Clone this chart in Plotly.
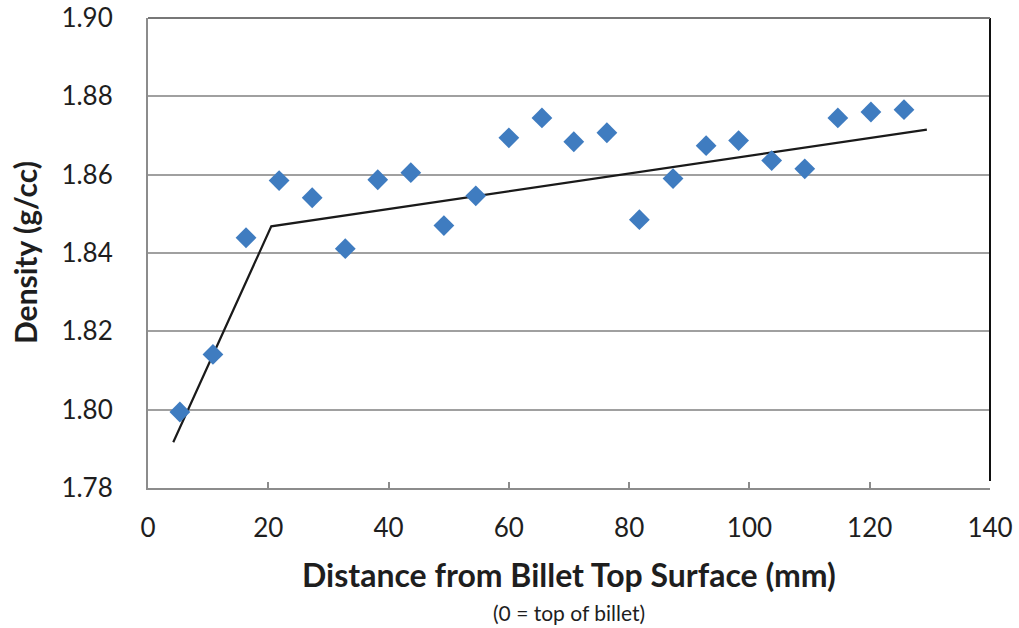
import plotly.graph_objects as go

distance_mm = [5.3, 10.8, 16.3, 21.8, 27.3, 32.8, 38.2, 43.7, 49.2, 54.5, 60.0, 65.5,
               70.8, 76.3, 81.7, 87.3, 92.8, 98.2, 103.7, 109.2, 114.7, 120.2, 125.7]
density = [1.7994, 1.8141, 1.8439, 1.8585, 1.8541, 1.8411, 1.8587, 1.8605, 1.8470, 1.8546,
           1.8694, 1.8745, 1.8684, 1.8707, 1.8485, 1.8590, 1.8674, 1.8687, 1.8636, 1.8615,
           1.8745, 1.8760, 1.8766]

fit_x = [4.2, 20.5, 129.5]
fit_y = [1.7917, 1.8468, 1.8715]

x_ticks = [0, 20, 40, 60, 80, 100, 120, 140]
y_ticks = [1.78, 1.80, 1.82, 1.84, 1.86, 1.88, 1.90]

font_family = "Lato, 'Open Sans', sans-serif"
text_color = "#1e1e1e"

fig = go.Figure()
fig.add_trace(go.Scatter(
    x=fit_x, y=fit_y, mode="lines",
    line=dict(color="#1a1a1a", width=2.2),
    showlegend=False, hoverinfo="skip"))
fig.add_trace(go.Scatter(
    x=distance_mm, y=density, mode="markers",
    marker=dict(symbol="diamond", size=16, color="#3f7cc0"),
    showlegend=False))

fig.update_layout(
    width=1019, height=628,
    margin=dict(l=148, r=29, t=18, b=140),
    paper_bgcolor="white", plot_bgcolor="white",
    font=dict(family=font_family, color=text_color),
    xaxis=dict(
        range=[0, 140], tickvals=x_ticks, ticktext=[str(v) for v in x_ticks],
        showgrid=False, zeroline=False, automargin=False,
        showline=True, linecolor="#8c8c8c", linewidth=2,
        ticks="inside", ticklen=6, tickcolor="#8c8c8c", tickwidth=1.5,
        tickfont=dict(size=26, color=text_color),
        ticklabelstandoff=16, ticklabeloverflow="allow",
    ),
    yaxis=dict(
        range=[1.78, 1.90], tickvals=y_ticks, ticktext=[f"{v:.2f}" for v in y_ticks],
        showgrid=True, gridcolor="#a0a0a0", gridwidth=1.5, zeroline=False,
        automargin=False,
        showline=True, linecolor="#8c8c8c", linewidth=2,
        ticks="", tickfont=dict(size=26, color=text_color),
        ticklabelstandoff=28, ticklabeloverflow="allow",
    ),
    shapes=[
        dict(type="line", xref="paper", yref="paper", x0=1, x1=1, y0=0.015, y1=1,
             line=dict(color="#111111", width=2)),
        dict(type="line", xref="paper", yref="paper", x0=0, x1=1, y0=1, y1=1,
             line=dict(color="#777777", width=2)),
    ],
    annotations=[
        dict(text="<b>Distance from Billet Top Surface (mm)</b>", xref="paper", yref="paper",
             x=0.5, y=0, yshift=-86, xanchor="center", yanchor="middle",
             showarrow=False, font=dict(size=32, color=text_color)),
        dict(text="(0 = top of billet)", xref="paper", yref="paper",
             x=0.5, y=0, yshift=-124, xanchor="center", yanchor="middle",
             showarrow=False, font=dict(size=21, color=text_color)),
        dict(text="<b>Density (g/cc)</b>", xref="paper", yref="paper",
             x=0, xshift=-123, y=0.5, xanchor="center", yanchor="middle",
             textangle=-90, showarrow=False, font=dict(size=30, color=text_color)),
    ],
)

fig.write_html("out.html",
               config={"displayModeBar": False},
               post_script="document.body.style.margin='0';document.body.style.padding='0';")
